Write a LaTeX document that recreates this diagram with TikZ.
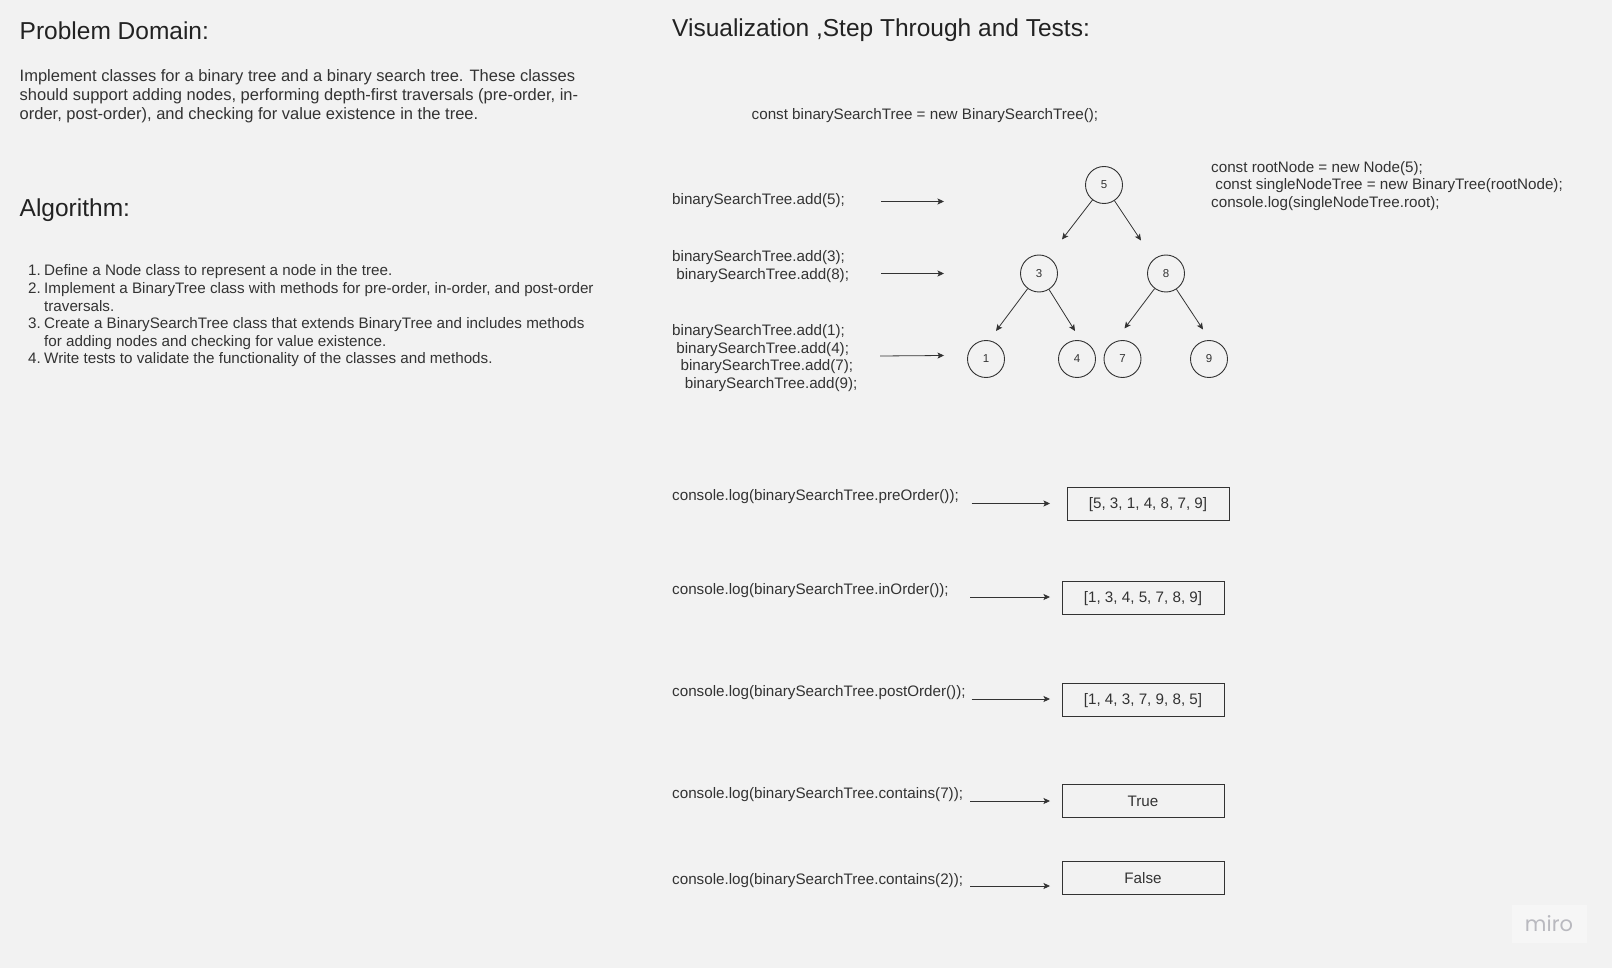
\documentclass[tikz,border=0pt]{standalone}
\usepackage{fontspec}
\setmainfont{Liberation Sans}
\newfontfamily\logofont{Poppins}
\usetikzlibrary{arrows.meta}
\definecolor{bg}{HTML}{F2F2F2}
\definecolor{ink}{HTML}{333333}
\definecolor{head}{HTML}{222222}
\definecolor{logobox}{HTML}{F6F6F6}
\definecolor{logotxt}{HTML}{B9B9BF}
\begin{document}
\begin{tikzpicture}[x=1pt,y=-1pt,
  txt/.style={inner sep=0pt, anchor=west, text=ink, align=left, yshift=-2pt},
  headtxt/.style={inner sep=0pt, anchor=west, text=head, yshift=-1.5pt, font=\fontsize{24.5}{28}\selectfont},
  body/.style={txt, font=\fontsize{16.5}{19}\selectfont},
  listtxt/.style={txt, font=\fontsize{15.2}{17.6}\selectfont},
  code/.style={txt, font=\fontsize{15.2}{17.5}\selectfont},
  tnode/.style={circle, draw=ink, line width=0.9pt, minimum size=37pt, inner sep=0pt, text=ink, font=\fontsize{11.5}{13}\selectfont},
  resbox/.style={draw=ink, line width=0.9pt, minimum width=162pt, minimum height=33pt, inner sep=0pt, text height=10.8pt, text depth=0pt, text=ink, font=\fontsize{15.2}{17}\selectfont},
  arr/.style={draw=ink, line width=0.8pt, -{Stealth[length=6.5pt,width=6pt,inset=1.5pt]}}
]
\useasboundingbox (0,0) rectangle (1612,968);
\fill[bg] (0,0) rectangle (1612,968);

% ---- left column ----
\node[headtxt] (pdh) at (19.5,29) {Problem Domain:};
\node[body] (pdt) at (19.5,94.3) {Implement classes for a binary tree and a binary search tree. These classes\\
should support adding nodes, performing depth-first traversals (pre-order, in-\\
order, post-order), and checking for value existence in the tree.};
\node[headtxt] (alh) at (19.5,208.5) {Algorithm:};
\node[listtxt] (alt) at (28,314) {\makebox[12.5pt][l]{1.}\hspace{3.5pt}Define a Node class to represent a node in the tree.\\
\makebox[12.5pt][l]{2.}\hspace{3.5pt}Implement a BinaryTree class with methods for pre-order, in-order, and post-order\\
\hspace{16pt}traversals.\\
\makebox[12.5pt][l]{3.}\hspace{3.5pt}Create a BinarySearchTree class that extends BinaryTree and includes methods\\
\hspace{16pt}for adding nodes and checking for value existence.\\
\makebox[12.5pt][l]{4.}\hspace{3.5pt}Write tests to validate the functionality of the classes and methods.};

% ---- right column ----
\node[headtxt] (vh) at (672,29) {Visualization ,Step Through and Tests:};
\node[code] (cbst) at (751.5,114) {const binarySearchTree = new BinarySearchTree();};

\node[code] (add5) at (672,198.5) {binarySearchTree.add(5);};
\node[code] (add38) at (672,264.5) {binarySearchTree.add(3);\\ \hspace{4.2pt}binarySearchTree.add(8);};
\node[code] (add1479) at (672,356) {binarySearchTree.add(1);\\ \hspace{4.2pt}binarySearchTree.add(4);\\ \hspace{8.4pt}binarySearchTree.add(7);\\ \hspace{12.6pt}binarySearchTree.add(9);};

\node[code] (single) at (1211,184) {const rootNode = new Node(5);\\ \hspace{4.2pt}const singleNodeTree = new BinaryTree(rootNode);\\ console.log(singleNodeTree.root);};

\coordinate (s1) at (881,201.5); \coordinate (e1) at (944,201.5);
\coordinate (s2) at (881,273.5); \coordinate (e2) at (944,273.5);
\coordinate (s3) at (880,356);   \coordinate (e3) at (944,355.5);
\draw[arr] (s1) -- (e1);
\draw[arr] (s2) -- (e2);
\draw[arr] (s3) -- (e3);

% tree
\node[tnode] (n5) at (1104,185) {5};
\node[tnode] (n3) at (1039,273.5) {3};
\node[tnode] (n8) at (1166,273.5) {8};
\node[tnode] (n1) at (986,359) {1};
\node[tnode] (n4) at (1077,359) {4};
\node[tnode] (n7) at (1122.5,359) {7};
\node[tnode] (n9) at (1209,359) {9};

\coordinate (t5l) at (1062,239.5);
\coordinate (t5r) at (1141,240.5);
\coordinate (t3l) at (996,331);
\coordinate (t3r) at (1075,331);
\coordinate (t8l) at (1124.5,328.5);
\coordinate (t8r) at (1203,329.5);
\draw[arr] (n5) -- (t5l);
\draw[arr] (n5) -- (t5r);
\draw[arr] (n3) -- (t3l);
\draw[arr] (n3) -- (t3r);
\draw[arr] (n8) -- (t8l);
\draw[arr] (n8) -- (t8r);

% traversal results
\node[code] (pre) at (672,495) {console.log(binarySearchTree.preOrder());};
\node[code] (ino) at (672,589) {console.log(binarySearchTree.inOrder());};
\node[code] (post) at (672,691) {console.log(binarySearchTree.postOrder());};
\node[code] (c7) at (672,793) {console.log(binarySearchTree.contains(7));};
\node[code] (c2) at (672,878.5) {console.log(binarySearchTree.contains(2));};

\node[resbox] (r1) at (1148,503.5) {[5, 3, 1, 4, 8, 7, 9]};
\node[resbox] (r2) at (1143,597.5) {[1, 3, 4, 5, 7, 8, 9]};
\node[resbox] (r3) at (1143,699.5) {[1, 4, 3, 7, 9, 8, 5]};
\node[resbox] (r4) at (1143,801) {True};
\node[resbox] (r5) at (1143,878) {False};

\coordinate (p1) at (971.5,503.5); \coordinate (q1) at (1050,503.5);
\coordinate (p2) at (970,597);     \coordinate (q2) at (1050,597);
\coordinate (p3) at (971.5,699);   \coordinate (q3) at (1050,699);
\coordinate (p4) at (970,801);     \coordinate (q4) at (1050,801);
\coordinate (p5) at (970,886);     \coordinate (q5) at (1050,886);
\draw[arr] (p1) -- (q1);
\draw[arr] (p2) -- (q2);
\draw[arr] (p3) -- (q3);
\draw[arr] (p4) -- (q4);
\draw[arr] (p5) -- (q5);

% logo
\node[fill=logobox, minimum width=75pt, minimum height=38pt, inner sep=0pt, text=logotxt, font=\logofont\fontsize{21}{24}\selectfont] (logo) at (1549,923.5) {miro};
\end{tikzpicture}
\end{document}
